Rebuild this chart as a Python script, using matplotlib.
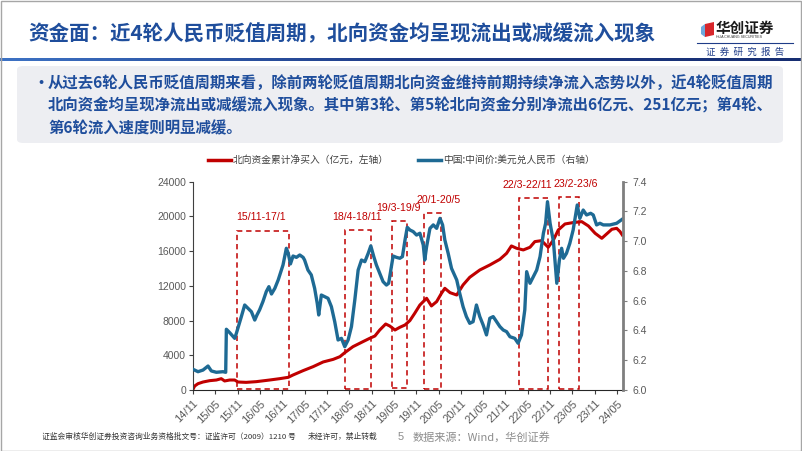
import numpy as np
import matplotlib
matplotlib.use('Agg')
from matplotlib import pyplot as plt
from matplotlib.patches import Rectangle, FancyBboxPatch, Polygon

plt.rcParams['font.family'] = ['Noto Sans CJK SC', 'DejaVu Sans']

# time axis: months since 2014-11
north_t = [0.0, 0.45, 1.35, 2.69, 4.48, 6.28, 7.6, 8.5, 9.87, 11.2, 12.1, 14.3, 17.0, 20.6,
           23.3, 25.6, 26.9, 29.6, 32.3, 35.0, 37.7, 39.5, 40.8, 43.0, 45.7, 47.5, 48.9,
           50.2, 51.8, 52.9, 54.3, 55.6, 57.0, 58.3, 59.6, 61.0, 62.8, 64.1, 65.5, 66.8,
           67.7, 69.1, 70.9, 72.6, 74.4, 77.1, 79.8, 82.5, 84.3, 85.6, 87.0, 88.8, 90.6,
           91.9, 93.7, 95.5, 96.9, 98.2, 100.0, 102.2, 104.5, 106.3, 108.1, 109.9, 111.2,
           112.6, 113.9, 114.8, 115.4]
north_v = [80, 460, 730, 920, 1075, 1150, 1305, 1040, 1150, 1150, 920, 880, 960, 1150,
           1305, 1460, 1730, 2230, 2690, 3230, 3530, 3840, 4300, 4990, 5570, 5950, 6220,
           6910, 7600, 7370, 6910, 7220, 7490, 7990, 8830, 9790, 10560, 9680, 10180, 11140,
           11710, 11210, 10940, 12100, 12980, 13820, 14400, 15050, 15740, 16590, 16320, 16130, 16440,
           17090, 17200, 16440, 17280, 18430, 19120, 19280, 19390, 18890, 18050, 17470, 17970,
           18510, 18620, 18240, 17860]

cny_t = [0.0, 1.35, 2.69, 4.04, 4.93, 6.28, 8.07, 8.79, 8.97, 9.87, 11.21, 11.66, 13.0, 13.9,
         14.8, 15.7, 16.6, 17.2, 17.9, 18.8, 19.7, 20.4, 21.1, 22.0, 22.9, 24.2, 25.1, 25.6,
         26.2, 26.9, 27.8, 28.7, 29.6, 30.0, 30.9, 31.8, 32.7, 33.4, 33.8, 34.5, 35.4, 36.3,
         37.2, 38.1, 39.0, 39.9, 40.8, 41.7, 42.6, 43.5, 44.4, 45.3, 46.2, 47.1, 47.8, 48.6,
         49.3, 50.2, 51.1, 52.0, 52.6, 53.1, 53.8, 54.7, 55.6, 56.3, 57.0, 57.6, 58.3, 59.2,
         60.1, 61.0, 61.9, 62.3, 62.8, 63.7, 64.6, 65.5, 66.4, 67.1, 67.7, 68.6, 69.5, 70.9,
         71.7, 72.6, 73.5, 74.4, 75.3, 76.2, 77.1, 78.0, 78.9, 79.8, 80.7, 81.6, 82.5, 83.4,
         84.3, 85.2, 86.5, 87.4, 88.3, 89.2, 89.7, 90.6, 91.5, 92.4, 93.3, 94.2, 94.8, 95.3,
         96.0, 96.9, 97.8, 98.5, 99.1, 99.6, 100.4, 101.3, 102.2, 103.3, 104.0, 104.9, 105.8,
         106.9, 107.6, 108.5, 109.4, 110.3, 112.1, 113.9, 115.4]
cny_v = [6.139, 6.123, 6.134, 6.161, 6.128, 6.119, 6.123, 6.119, 6.408, 6.385, 6.347, 6.381,
         6.493, 6.571, 6.549, 6.526, 6.470, 6.504, 6.538, 6.594, 6.661, 6.694, 6.645, 6.683,
         6.739, 6.840, 6.952, 6.918, 6.847, 6.900, 6.891, 6.907, 6.891, 6.873, 6.806, 6.773,
         6.683, 6.582, 6.504, 6.638, 6.627, 6.616, 6.560, 6.459, 6.336, 6.347, 6.291, 6.336,
         6.426, 6.605, 6.806, 6.873, 6.862, 6.918, 6.968, 6.896, 6.840, 6.784, 6.728, 6.705,
         6.717, 6.795, 6.900, 6.891, 6.885, 6.896, 7.008, 7.093, 7.075, 7.064, 7.041, 7.053,
         6.974, 6.873, 6.963, 7.086, 7.109, 7.086, 7.153, 7.109, 7.008, 6.918, 6.817, 6.739,
         6.650, 6.560, 6.493, 6.448, 6.459, 6.571, 6.493, 6.437, 6.370, 6.482, 6.493, 6.459,
         6.426, 6.403, 6.392, 6.358, 6.347, 6.314, 6.370, 6.538, 6.795, 6.717, 6.761, 6.806,
         6.896, 7.053, 7.120, 7.265, 7.120, 6.997, 6.717, 6.873, 6.952, 6.885, 6.918, 6.985,
         7.075, 7.243, 7.153, 7.209, 7.176, 7.187, 7.176, 7.109, 7.120, 7.109, 7.109, 7.120,
         7.147]

tick_labels = ['14/11', '15/05', '15/11', '16/05', '16/11', '17/05', '17/11', '18/05', '18/11',
               '19/05', '19/11', '20/05', '20/11', '21/05', '21/11', '22/05', '22/11', '23/05',
               '23/11', '24/05']

periods = ['15/11-17/1', '18/4-18/11', '19/3-19/9', '20/1-20/5', '22/3-22/11', '23/2-23/6']
period_start = [11.7, 40.8, 53.4, 62.1, 87.6, 98.3]
period_end = [25.8, 47.8, 57.6, 66.6, 95.5, 103.7]
period_top = [18350, 18430, 19470, 20360, 22080, 22200]
period_bottom = [80, 80, 220, 80, 80, 80]
label_x = [18.3, 44.0, 55.3, 66.0, 89.8, 103.0]

RED = '#C00000'
BLUE = '#1E6A94'
NAVY = '#1F4E9C'
GREY = '#595959'

W, H = 802, 451
fig = plt.figure(figsize=(W / 100, H / 100), dpi=100)


def fx(x):
    return x / W


def fy(y):
    return 1 - y / H


# slide border
fig.patches.append(Rectangle((0.001, 0.001), 0.998, 0.997, transform=fig.transFigure,
                             fill=False, edgecolor='#A6A6A6', lw=1.0))

# title + band
fig.text(fx(28), fy(34), '资金面：近4轮人民币贬值周期，北向资金均呈现流出或减缓流入现象',
         fontsize=14.8, fontweight='bold', color=NAVY, va='center', ha='left')
grad = np.linspace(0, 1, 256).reshape(1, -1)
band = fig.add_axes([0, fy(61.5), 1, 4 / H])
band.imshow(grad, aspect='auto', cmap=matplotlib.colors.LinearSegmentedColormap.from_list(
    'b', ['#3D72C4', '#1F3C88', '#172E72']))
band.axis('off')

# logo
fig.patches.append(Polygon([(fx(705), fy(24)), (fx(714), fy(22)), (fx(714), fy(35)), (fx(705), fy(37))],
                           closed=True, transform=fig.transFigure, facecolor='#D7262B', edgecolor='none'))
fig.patches.append(Polygon([(fx(701), fy(27)), (fx(705), fy(24)), (fx(705), fy(37)), (fx(701), fy(34))],
                           closed=True, transform=fig.transFigure, facecolor='#6FA8DC', edgecolor='none'))
fig.text(fx(716), fy(28), '华创证券', fontsize=10.5, fontweight='bold', color='#1A1A1A', va='center')
fig.text(fx(716), fy(37.5), 'HUA CHUANG SECURITIES', fontsize=2.6, color='#333333', va='center',
         family='Liberation Sans')
fig.add_artist(plt.Line2D([fx(697), fx(793)], [fy(43), fy(43)], color='#1F3C88', lw=0.8))
fig.text(fx(745), fy(52), '证  券  研  究  报  告', fontsize=6.8, color='#1F3C88', ha='center',
         va='center')

# summary box
fig.patches.append(FancyBboxPatch((fx(17), fy(143)), fx(766), (143 - 66) / H,
                                  boxstyle='round,pad=0,rounding_size=0.008',
                                  transform=fig.transFigure, facecolor='#EDEEF2', edgecolor='none'))
fig.text(fx(33), fy(83), '•', fontsize=11, color=NAVY, va='center', fontweight='bold')
lines = ['从过去6轮人民币贬值周期来看，除前两轮贬值周期北向资金维持前期持续净流入态势以外，近4轮贬值周期',
         '北向资金均呈现净流出或减缓流入现象。其中第3轮、第5轮北向资金分别净流出6亿元、251亿元；第4轮、',
         '第6轮流入速度则明显减缓。']
for i, s in enumerate(lines):
    fig.text(fx(48), fy(83 + 22.5 * i), s, fontsize=11.1, fontweight='bold', color=NAVY, va='center')

# chart
ax = fig.add_axes([fx(193), fy(390), fx(623 - 193), (390 - 181.6) / H])
ax2 = ax.twinx()

ax.plot(north_t, north_v, color=RED, lw=2.2, solid_joinstyle='round')
ax2.plot(cny_t, cny_v, color=BLUE, lw=2.4, solid_joinstyle='round')

for name, x0, x1, top, bot, lx in zip(periods, period_start, period_end, period_top,
                                      period_bottom, label_x):
    ax.add_patch(Rectangle((x0, bot), x1 - x0, top - bot, fill=False, edgecolor=RED,
                           lw=1.1, ls=(0, (3.5, 2.5))))
    ax.annotate(name, (lx, top), xytext=(0, 6), textcoords='offset points', ha='center',
                va='bottom', fontsize=7.6, color=RED, family='Liberation Sans')

ax.set_xlim(0, 115.6)
ax.set_ylim(0, 24000)
ax2.set_ylim(6.0, 7.4)
ax.set_yticks(np.arange(0, 24001, 4000))
ax2.set_yticks(np.arange(6.0, 7.41, 0.2))
ax2.set_yticklabels([f'{v:.1f}' for v in np.arange(6.0, 7.41, 0.2)])
ax.set_xticks(np.arange(len(tick_labels)) * 6)
ax.set_xticklabels(tick_labels, rotation=45, ha='right', rotation_mode='anchor')

for a in (ax, ax2):
    a.spines['top'].set_visible(False)
    a.tick_params(labelsize=7.5, labelcolor=GREY, length=3, width=0.8, color='#404040', pad=2)
    for lab in a.get_xticklabels() + a.get_yticklabels():
        lab.set_family('Liberation Sans')
ax.tick_params(axis='x', labelsize=8, pad=3)
ax.spines['left'].set_color('#404040')
ax.spines['bottom'].set_color('#262626')
ax.spines['right'].set_visible(False)
ax2.spines['left'].set_visible(False)
ax2.spines['bottom'].set_visible(False)
ax2.spines['right'].set_color('#7F7F7F')
ax2.spines['right'].set_linewidth(2)
ax2.tick_params(axis='y', color='#7F7F7F', pad=4)

# legend
fig.add_artist(plt.Line2D([fx(208), fx(231)], [fy(160), fy(160)], color=RED, lw=2.5))
fig.text(fx(233), fy(160), '北向资金累计净买入（亿元，左轴）', fontsize=7, color='#404040', va='center')
fig.add_artist(plt.Line2D([fx(418), fx(441)], [fy(160), fy(160)], color=BLUE, lw=2.5))
fig.text(fx(443), fy(160), '中国:中间价:美元兑人民币（右轴）', fontsize=7, color='#404040', va='center')

# footer
fig.text(fx(42), fy(437), '证监会审核华创证券投资咨询业务资格批文号：证监许可（2009）1210 号',
         fontsize=5.6, color='#333333', va='center')
fig.text(fx(308), fy(437), '未经许可，禁止转载', fontsize=5.6, color='#333333', va='center')
fig.text(fx(398), fy(437), '5', fontsize=8, color='#8C8C8C', va='center', family='Liberation Sans')
fig.text(fx(413), fy(437), '数据来源：Wind，华创证券', fontsize=8, color='#8C8C8C', va='center')

fig.savefig('out.png', dpi=100)
